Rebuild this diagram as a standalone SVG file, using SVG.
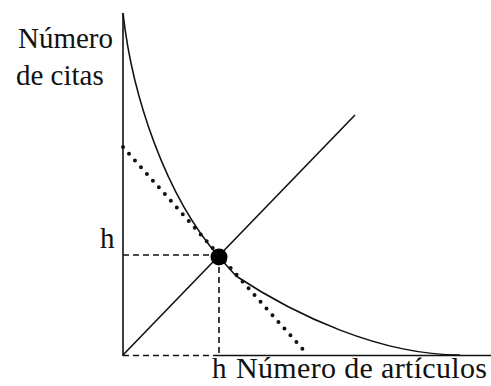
<svg xmlns="http://www.w3.org/2000/svg" width="491" height="386" viewBox="0 0 491 386">
<style>
text{font-family:"Liberation Serif","Times New Roman",serif;font-size:29px;fill:#111}
.solid{fill:none;stroke:#111;stroke-width:1.6}
.dash{fill:none;stroke:#111;stroke-width:1.6;stroke-dasharray:6 4}
.dot{fill:none;stroke:#111;stroke-width:4;stroke-linecap:round;stroke-dasharray:0 9}
</style>
<rect width="491" height="386" fill="#fff"/>
<g id="axes">
<line class="solid" x1="123" y1="13" x2="123" y2="356"/>
<line class="dash" x1="123" y1="355.5" x2="219" y2="355.5"/>
<line class="solid" x1="219" y1="355.5" x2="491" y2="355.5"/>
</g>
<g id="connectors">
<path id="curve" class="solid" d="M123,13 C132,95 165,195 219,257 L236,276 C295,315 380,355 460,355"/>
<line id="diagonal" class="solid" x1="123" y1="355" x2="355" y2="115"/>
<line id="tangent" class="dot" x1="123" y1="147" x2="307" y2="354"/>
<line id="h-horizontal" class="dash" x1="123" y1="255" x2="219" y2="255"/>
<line id="h-vertical" class="dash" x1="219" y1="257" x2="219" y2="355"/>
</g>
<g id="h-point">
<circle cx="219" cy="257" r="8.5" fill="#000"/>
</g>
<g id="labels">
<text x="18" y="48">Número</text>
<text x="16" y="85">de citas</text>
<text x="100" y="248">h</text>
<text x="212" y="378">h</text>
<text x="236" y="378" style="font-size:30px" textLength="251" lengthAdjust="spacing">Número de artículos</text>
</g>
</svg>
